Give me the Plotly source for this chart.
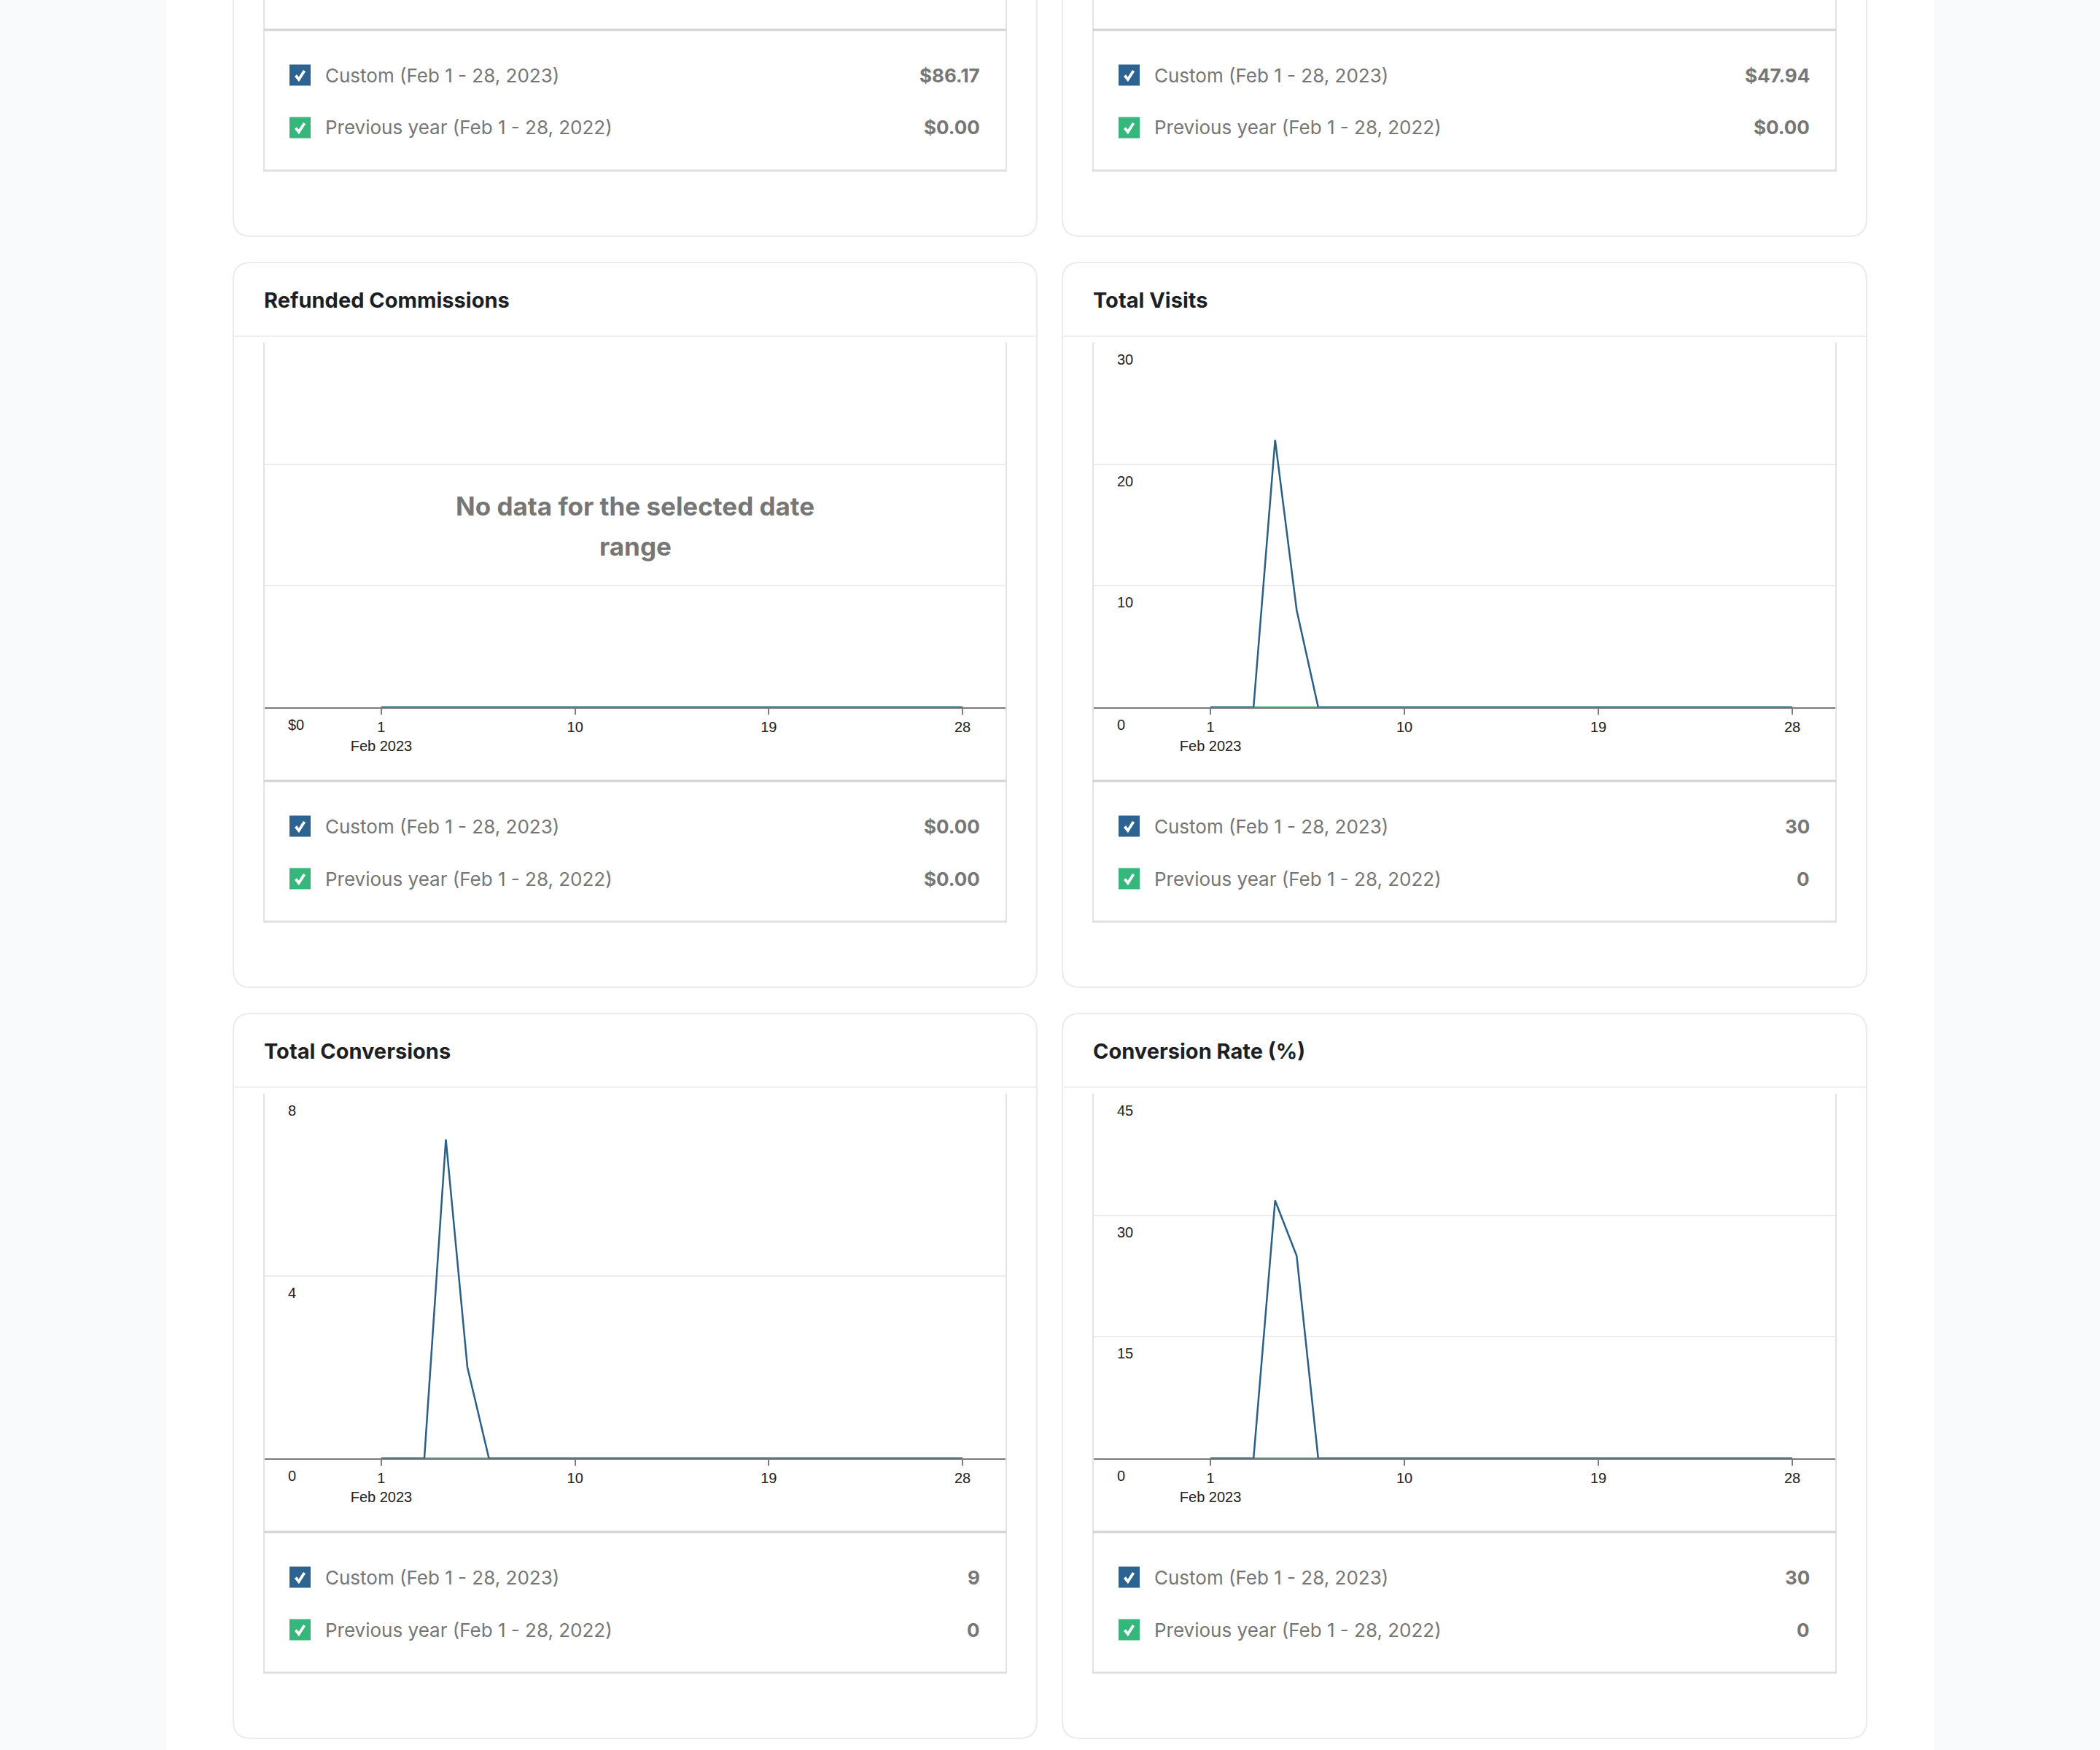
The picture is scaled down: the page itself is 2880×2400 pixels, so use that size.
import plotly.graph_objects as go

W, H = 2880, 2400

# ---------------- data ----------------
days = [1, 2, 3, 4, 5, 6, 7, 8, 9, 10, 11, 12, 13, 14,
        15, 16, 17, 18, 19, 20, 21, 22, 23, 24, 25, 26, 27, 28]

refunded_current = [0, 0, 0, 0, 0, 0, 0, 0, 0, 0, 0, 0, 0, 0,
                    0, 0, 0, 0, 0, 0, 0, 0, 0, 0, 0, 0, 0, 0]
refunded_previous = [0, 0, 0, 0, 0, 0, 0, 0, 0, 0, 0, 0, 0, 0,
                     0, 0, 0, 0, 0, 0, 0, 0, 0, 0, 0, 0, 0, 0]

visits_current = [0, 0, 0, 22, 8, 0, 0, 0, 0, 0, 0, 0, 0, 0,
                  0, 0, 0, 0, 0, 0, 0, 0, 0, 0, 0, 0, 0, 0]
visits_previous = [0, 0, 0, 0, 0, 0, 0, 0, 0, 0, 0, 0, 0, 0,
                   0, 0, 0, 0, 0, 0, 0, 0, 0, 0, 0, 0, 0, 0]

conversions_current = [0, 0, 0, 7, 2, 0, 0, 0, 0, 0, 0, 0, 0, 0,
                       0, 0, 0, 0, 0, 0, 0, 0, 0, 0, 0, 0, 0, 0]
conversions_previous = [0, 0, 0, 0, 0, 0, 0, 0, 0, 0, 0, 0, 0, 0,
                        0, 0, 0, 0, 0, 0, 0, 0, 0, 0, 0, 0, 0, 0]

rate_current = [0, 0, 0, 31.82, 25, 0, 0, 0, 0, 0, 0, 0, 0, 0,
                0, 0, 0, 0, 0, 0, 0, 0, 0, 0, 0, 0, 0, 0]
rate_previous = [0, 0, 0, 0, 0, 0, 0, 0, 0, 0, 0, 0, 0, 0,
                 0, 0, 0, 0, 0, 0, 0, 0, 0, 0, 0, 0, 0, 0]

x_tickvals = [1, 10, 19, 28]
x_ticktext = ["1<br>Feb 2023", "10", "19", "28"]

refunded_yticks = [0, 1, 2, 3]
refunded_ylabels = ["$0", "", "", ""]
visits_yticks = [0, 10, 20, 30]
visits_ylabels = ["0", "10", "20", "30"]
conversions_yticks = [0, 4, 8]
conversions_ylabels = ["0", "4", "8"]
rate_yticks = [0, 15, 30, 45]
rate_ylabels = ["0", "15", "30", "45"]

series_labels = ["Custom (Feb 1 - 28, 2023)", "Previous year (Feb 1 - 28, 2022)"]
top_left_totals = ["$86.17", "$0.00"]
top_right_totals = ["$47.94", "$0.00"]
refunded_totals = ["$0.00", "$0.00"]
visits_totals = ["30", "0"]
conversions_totals = ["9", "0"]
rate_totals = ["30", "0"]

titles = ["Refunded Commissions", "Total Visits", "Total Conversions", "Conversion Rate (%)"]
no_data_lines = ["No data for the selected date", "range"]

# ---------------- styling ----------------
BLUE = "#2d6390"
BLUE_LINE = "#2a5f87"
GREEN = "#35b67b"
UI_FONT = "Inter"
TICK_FONT = "Liberation Sans"
TEXT_GRAY = "#767676"
TITLE_COLOR = "#1d1f24"
TICK_COLOR = "#222222"


def fx(p):
    return p / W


def fy(p):
    return 1 - p / H


def rrect_path(x0, y0, x1, y1, r):
    X0, X1 = fx(x0), fx(x1)
    Yt, Yb = fy(y0), fy(y1)
    rx, ry = r / W, r / H
    return (f"M{X0+rx},{Yt} L{X1-rx},{Yt} Q{X1},{Yt} {X1},{Yt-ry} "
            f"L{X1},{Yb+ry} Q{X1},{Yb} {X1-rx},{Yb} L{X0+rx},{Yb} "
            f"Q{X0},{Yb} {X0},{Yb+ry} L{X0},{Yt-ry} Q{X0},{Yt} {X0+rx},{Yt} Z")


shapes = []
annotations = []


def hline(x0, x1, y, color, width, layer="above"):
    shapes.append(dict(type="line", xref="paper", yref="paper",
                       x0=fx(x0), x1=fx(x1), y0=fy(y), y1=fy(y),
                       line=dict(color=color, width=width), layer=layer))


def vline(x, y0, y1, color, width, layer="above"):
    shapes.append(dict(type="line", xref="paper", yref="paper",
                       x0=fx(x), x1=fx(x), y0=fy(y0), y1=fy(y1),
                       line=dict(color=color, width=width), layer=layer))


def text(x, y, s, size, color, xanchor="left", bold=False, family=UI_FONT):
    annotations.append(dict(xref="paper", yref="paper", x=fx(x), y=fy(y),
                            text=f"<b>{s}</b>" if bold else s, showarrow=False,
                            xanchor=xanchor, yanchor="middle",
                            font=dict(family=family, size=size, color=color)))


# white content column
shapes.append(dict(type="rect", xref="paper", yref="paper", x0=fx(228), x1=fx(2652),
                   y0=fy(0), y1=fy(H), fillcolor="white", line_width=0, layer="below"))

COLS = [(320, 1422), (1457, 2560)]


def card(col, T, title, totals):
    cx0, cx1 = COLS[col]
    bx0, bx1 = cx0 + 42, cx1 - 42
    shapes.append(dict(type="path", xref="paper", yref="paper",
                       path=rrect_path(cx0, T, cx1, T + 994, 24),
                       fillcolor="white", line=dict(color="#ebebeb", width=2), layer="below"))
    if title:
        text(cx0 + 40, T + 51, title, 29, TITLE_COLOR, bold=True)
    hline(cx0 + 1, cx1 - 1, T + 101, "#f1f1f1", 2, layer="below")
    # chart + legend box
    vline(bx0, T + 110, T + 905, "#e3e3e3", 2)
    vline(bx1, T + 110, T + 905, "#e3e3e3", 2)
    hline(bx0, bx1, T + 711, "#d2d2d2", 3)
    hline(bx0 - 1, bx1 + 1, T + 904, "#e0e0e0", 3)
    # legend rows
    for i, (lab, val, colr) in enumerate(zip(series_labels, totals, [BLUE, GREEN])):
        yc = T + 773 + i * 72
        sx = bx0 + 35
        s = 29
        shapes.append(dict(type="rect", xref="paper", yref="paper",
                           x0=fx(sx), x1=fx(sx + s), y0=fy(yc - s / 2), y1=fy(yc + s / 2),
                           fillcolor=colr, line_width=0))
        top = yc - s / 2
        pts = [(sx + 8.5, top + 15), (sx + 12.8, top + 20.5), (sx + 20.5, top + 8.5)]
        path = "M" + " L".join(f"{fx(px)},{fy(py)}" for px, py in pts)
        shapes.append(dict(type="path", xref="paper", yref="paper", path=path,
                           line=dict(color="white", width=3.8)))
        text(bx0 + 82, yc, lab, 26, TEXT_GRAY)
        text(bx1 - 34, yc, val, 26, TEXT_GRAY, xanchor="right", bold=True)
    return bx0, bx1


# top partially visible cards
for col, tot in [(0, top_left_totals), (1, top_right_totals)]:
    card(col, -670, None, tot)

panels = [
    dict(col=0, T=360, title=titles[0], cur=refunded_current, prev=refunded_previous,
         ymax=3, yt=refunded_yticks, yl=refunded_ylabels, totals=refunded_totals),
    dict(col=1, T=360, title=titles[1], cur=visits_current, prev=visits_previous,
         ymax=30, yt=visits_yticks, yl=visits_ylabels, totals=visits_totals),
    dict(col=0, T=1390, title=titles[2], cur=conversions_current, prev=conversions_previous,
         ymax=8, yt=conversions_yticks, yl=conversions_ylabels, totals=conversions_totals),
    dict(col=1, T=1390, title=titles[3], cur=rate_current, prev=rate_previous,
         ymax=45, yt=rate_yticks, yl=rate_ylabels, totals=rate_totals),
]

fig = go.Figure()
layout = {}
for i, p in enumerate(panels):
    s = "" if i == 0 else str(i + 1)
    bx0, bx1 = card(p["col"], p["T"], p["title"], p["totals"])
    T = p["T"]
    fig.add_trace(go.Scatter(x=days, y=p["prev"], mode="lines", line=dict(color=GREEN, width=2.5),
                             xaxis=f"x{s}", yaxis=f"y{s}", hoverinfo="skip", showlegend=False))
    fig.add_trace(go.Scatter(x=days, y=p["cur"], mode="lines", line=dict(color=BLUE_LINE, width=2.5),
                             xaxis=f"x{s}", yaxis=f"y{s}", hoverinfo="skip", showlegend=False))
    layout[f"xaxis{s}"] = dict(domain=[fx(bx0), fx(bx1)], range=[-4.45, 30.03], anchor=f"y{s}",
                               tickmode="array", tickvals=x_tickvals, ticktext=x_ticktext,
                               showgrid=False, zeroline=False, showline=True,
                               linecolor="#7b7b7b", linewidth=2, ticks="outside", ticklen=8,
                               tickwidth=2, tickcolor="#7b7b7b",
                               tickfont=dict(family=TICK_FONT, size=20, color=TICK_COLOR),
                               fixedrange=True)
    # the bottom (zero) label sits below the axis line, outside the plot area, so
    # it is placed as an annotation positioned on the axis' own scale
    ylabels = [""] + list(p["yl"][1:])
    layout[f"yaxis{s}"] = dict(domain=[fy(T + 610), fy(T + 110)], range=[0, p["ymax"]],
                               anchor=f"x{s}", tickmode="array", tickvals=p["yt"], ticktext=ylabels,
                               showgrid=True, gridcolor="#ececec", gridwidth=2,
                               zeroline=False, showline=False, ticks="",
                               ticklabelposition="inside", ticklabelstandoff=30,
                               ticklabelshift=23,
                               tickfont=dict(family=TICK_FONT, size=20, color=TICK_COLOR),
                               fixedrange=True)
    annotations.append(dict(xref=f"x{s} domain", yref=f"y{s}", x=0, y=p["yt"][0],
                            text=p["yl"][0], showarrow=False, xanchor="left", yanchor="middle",
                            xshift=31, yshift=-24,
                            font=dict(family=TICK_FONT, size=20, color=TICK_COLOR)))
    if i == 0:
        cxm = (bx0 + bx1) / 2
        text(cxm, T + 334, no_data_lines[0], 35, TEXT_GRAY, xanchor="center", bold=True)
        text(cxm, T + 389, no_data_lines[1], 35, TEXT_GRAY, xanchor="center", bold=True)

fig.update_layout(**layout)
fig.update_layout(width=W, height=H, margin=dict(l=0, r=0, t=0, b=0, pad=0),
                  paper_bgcolor="#f9fafb", plot_bgcolor="rgba(0,0,0,0)",
                  shapes=shapes, annotations=annotations, showlegend=False)

fig.write_html("out.html", config={"displayModeBar": False},
               post_script="document.body.style.margin='0';document.body.style.padding='0';")
